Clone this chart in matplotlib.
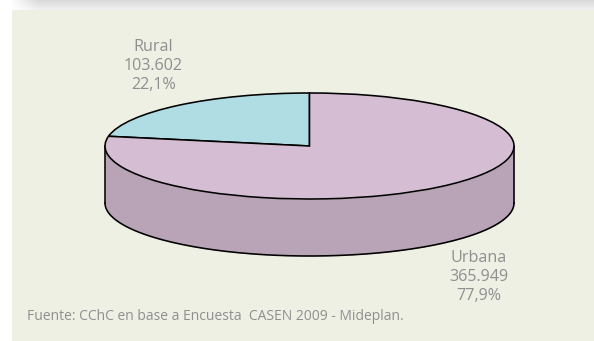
import numpy as np
import matplotlib
matplotlib.use('Agg')
import matplotlib.pyplot as plt

categories = ['Rural', 'Urbana']
values = [103602, 365949]
value_labels = ['103.602', '365.949']
share_labels = ['22,1%', '77,9%']
source_note = 'Fuente: CChC en base a Encuesta  CASEN 2009 - Mideplan.'

W, H = 594, 341
cx, cy = 309.5, 146      # centre of the top ellipse, px
rx, ry = 204.5, 53       # ellipse radii, px
depth = 57               # height of the cylinder wall, px

TOP_COLORS = ['#b0dce3', '#d5bdd3']
SIDE_COLOR = '#b9a3b7'
PANEL = '#eef0e3'
TEXT = '#8e9090'

plt.rcParams['font.family'] = ['Open Sans', 'Noto Sans', 'DejaVu Sans']

def main():
    fig = plt.figure(figsize=(W / 100, H / 100), dpi=100, facecolor='white')

    # grey shadow along the top, fading out towards the left edge
    bg = fig.add_axes([0, 0, 1, 1], zorder=0)
    vert = np.linspace(0.15, 0.06, 10).reshape(-1, 1)
    horiz = np.clip((np.arange(W) - 10) / 28, 0, 1).reshape(1, -1)
    shade = 1 - vert * horiz
    bg.imshow(shade, extent=(0, W, 10, 0), cmap='gray', vmin=0, vmax=1,
              aspect='auto', interpolation='bilinear')
    bg.set_xlim(0, W)
    bg.set_ylim(H, 0)
    bg.axis('off')
    bg.add_patch(plt.Rectangle((12, 9.5), W - 12, H - 9.5, facecolor=PANEL, edgecolor='none'))

    # axes in unit-circle coordinates so the pie turns into an ellipse
    ax = fig.add_axes([0, 0, 1, 1], zorder=1)
    ax.patch.set_alpha(0)

    # cylinder wall under the front half
    t = np.linspace(np.pi, 2 * np.pi, 200)
    d = depth / ry
    ax.fill_between(np.cos(t), np.sin(t), np.sin(t) - d, color=SIDE_COLOR, lw=0, zorder=1)
    ax.plot(np.cos(t), np.sin(t) - d, color='black', lw=1.15, zorder=2)
    ax.plot([-1, -1], [0, -d], color='black', lw=1.15, zorder=2)
    ax.plot([1, 1], [0, -d], color='black', lw=1.15, zorder=2)

    wedges, _ = ax.pie(values, colors=TOP_COLORS, startangle=90, counterclock=True,
                       wedgeprops={'edgecolor': 'black', 'linewidth': 1.15, 'zorder': 3})
    ax.set_aspect('auto')
    ax.set_xlim((0 - cx) / rx, (W - cx) / rx)
    ax.set_ylim((cy - H) / ry, cy / ry)
    ax.axis('off')

    # data labels
    label_pos = [(153.5, 66), (479, 277)]
    for name, val, share, (x, y) in zip(categories, value_labels, share_labels, label_pos):
        fig.text(x / W, 1 - y / H, f'{name}\n{val}\n{share}', ha='center', va='center',
                 color=TEXT, fontsize=11.6, linespacing=1.21)

    fig.text(27 / W, 1 - 316.5 / H, source_note, ha='left', va='center', color=TEXT, fontsize=10)

    fig.savefig('out.png', dpi=100, facecolor='white')

if __name__ == '__main__':
    main()
